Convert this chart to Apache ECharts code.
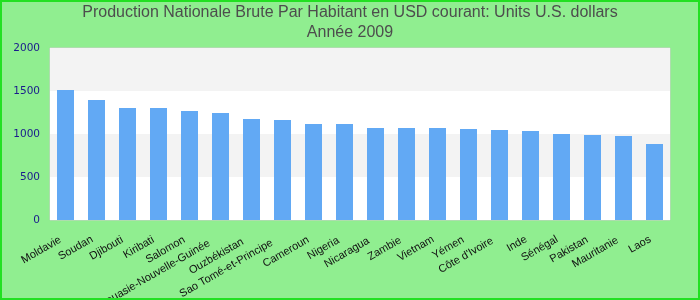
<!DOCTYPE html>
<html><head><meta charset="utf-8">
<script src="https://cdn.jsdelivr.net/npm/echarts@6/dist/echarts.min.js"></script>
<style>
html,body{margin:0;padding:0;background:#90ee90;}
#c{width:700px;height:300px;box-sizing:border-box;border:2px solid #22e022;}
</style></head>
<body><div id="c"></div>
<script>
const categories = ["Moldavie","Soudan","Djibouti","Kiribati","Salomon","Papouasie-Nouvelle-Guinée","Ouzbékistan","Sao Tomé-et-Principe","Cameroun","Nigeria","Nicaragua","Zambie","Vietnam","Yémen","Côte d'Ivoire","Inde","Sénégal","Pakistan","Mauritanie","Laos"];
const values = [1512,1395,1302,1302,1267,1244,1174,1163,1116,1116,1070,1070,1070,1058,1047,1035,1000,988,977,884];
const yTicks = [0,500,1000,1500,2000];
const titleLines = ["Production Nationale Brute Par Habitant en USD courant: Units U.S. dollars","Année 2009"];

// label layout tweak (shift along text direction), style only
const labelShift = [6,5,6,6,6,13,10,12,6,7,8,7,5,6,8,5,5,6,7,5];

const xData = categories.map((c,i)=>({value:c,textStyle:{padding:[0,labelShift[i],0,0]}}));

const chart = echarts.init(document.getElementById('c'), null, {renderer:'canvas'});
chart.setOption({
  backgroundColor:'#90ee90',
  animation:false,
  title:{
    text:titleLines.join('\n'),
    left:'center', top:1, padding:0,
    textStyle:{fontFamily:'Liberation Sans, Arial, sans-serif',fontSize:16,fontWeight:'normal',color:'#4d4d4d',lineHeight:20}
  },
  grid:{left:48,right:28,top:46,bottom:78,outerBoundsMode:'none',containLabel:false,show:true,backgroundColor:'#ffffff',borderColor:'#cccccc',borderWidth:1},
  xAxis:{
    type:'category', data:xData,
    axisLine:{show:false}, axisTick:{show:false},
    axisLabel:{interval:0,rotate:30,margin:16,hideOverlap:false,fontFamily:'Liberation Sans, Arial, sans-serif',fontSize:11,color:'#111111'}
  },
  yAxis:{
    type:'value', min:yTicks[0], max:yTicks[yTicks.length-1], interval:500,
    axisLine:{show:false}, axisTick:{show:false},
    splitLine:{show:false},
    splitArea:{show:true,areaStyle:{color:['#ffffff','#f3f3f3']}},
    axisLabel:{margin:10,formatter:v=>String(v),fontFamily:'DejaVu Sans, sans-serif',fontSize:10.5,color:'#1a1a8c'}
  },
  series:[{type:'bar',data:values,barWidth:17,itemStyle:{color:'#62a9f4'}}]
});
</script></body></html>
